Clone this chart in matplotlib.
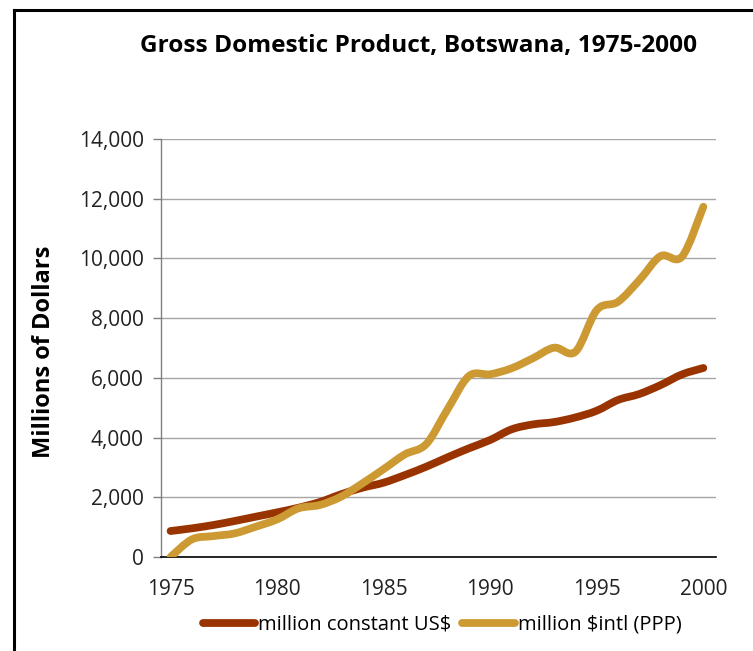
import matplotlib
matplotlib.use("Agg")
import matplotlib.pyplot as plt
from matplotlib.path import Path
from matplotlib.patches import PathPatch
from matplotlib.lines import Line2D
import numpy as np

plt.rcParams['font.family'] = ['Open Sans', 'DejaVu Sans']

years = list(range(1975, 2001))
constant_usd = [870, 960, 1070, 1205, 1350, 1495, 1650, 1840, 2100, 2320,
                2490, 2745, 3025, 3340, 3640, 3920, 4275, 4440, 4520, 4675,
                4900, 5260, 5460, 5760, 6115, 6330]
ppp_intl = [0, 590, 700, 790, 1015, 1260, 1630, 1740, 2020, 2465,
            2945, 3440, 3785, 4950, 6060, 6120, 6320, 6655, 7010, 6875,
            8270, 8550, 9275, 10080, 10060, 11730]
series_names = ["million constant US$", "million $intl (PPP)"]
colors = ["#993300", "#CC9933"]
y_ticks = [0, 2000, 4000, 6000, 8000, 10000, 12000, 14000]
x_ticks = [1975, 1980, 1985, 1990, 1995, 2000]

title = "Gross Domestic Product, Botswana, 1975-2000"
ylabel = "Millions of Dollars"


def smooth_path(xs, ys):
    pts = np.column_stack([xs, ys]).astype(float)
    n = len(pts)
    verts = [pts[0]]
    codes = [Path.MOVETO]
    for i in range(n - 1):
        p0 = pts[i - 1] if i > 0 else pts[i]
        p1 = pts[i]
        p2 = pts[i + 1]
        p3 = pts[i + 2] if i + 2 < n else pts[i + 1]
        c1 = p1 + (p2 - p0) / 6.0
        c2 = p2 - (p3 - p1) / 6.0
        verts += [c1, c2, p2]
        codes += [Path.CURVE4] * 3
    return Path(verts, codes)


fig = plt.figure(figsize=(7.53, 6.51), dpi=100)
ax = fig.add_axes([0.2138, 0.1444, 0.951 - 0.2138, 0.7865 - 0.1444])

lw = 5.6
for vals, c in zip([constant_usd, ppp_intl], colors):
    patch = PathPatch(smooth_path(years, vals), facecolor='none', edgecolor=c,
                      lw=lw, capstyle='round', joinstyle='round', zorder=3)
    ax.add_patch(patch)

ax.set_xlim(1974.55, 2000.6)
ax.set_ylim(0, 14000)
ax.set_yticks(y_ticks)
ax.set_yticklabels([f"{v:,}" for v in y_ticks])
ax.set_xticks(x_ticks)
ax.set_xticklabels([str(v) for v in x_ticks])
ax.yaxis.grid(True, color='#a6a6a6', lw=1.0)
ax.set_axisbelow(True)
for s in ['top', 'right']:
    ax.spines[s].set_visible(False)
ax.spines['left'].set_color('#808080')
ax.spines['left'].set_linewidth(1.0)
ax.spines['bottom'].set_color('black')
ax.spines['bottom'].set_linewidth(1.2)
ax.tick_params(axis='y', length=5.5, width=1, color='#808080', labelsize=15, pad=7,
               labelcolor='#222222')
ax.tick_params(axis='x', length=0, labelsize=15, pad=16, labelcolor='#222222')

fig.text(0.556, 0.929, title, ha='center', va='center', fontsize=17.6, fontweight='bold')
fig.text(0.059, 0.46, ylabel, ha='center', va='center', rotation=90, fontsize=17,
         fontweight='bold')

handles = [Line2D([], [], color=c, lw=lw, solid_capstyle='round') for c in colors]
fig.legend(handles, series_names, loc='center', bbox_to_anchor=(0.587, 0.04),
           ncol=2, frameon=False, fontsize=14.5, handlelength=2.6, handletextpad=0.15,
           columnspacing=0.55)

# figure border (top and left)
fig.add_artist(Line2D([0.0186, 1.0], [0.985, 0.985], transform=fig.transFigure,
                      color='black', lw=2.2))
fig.add_artist(Line2D([0.0186, 0.0186], [0.0, 0.985], transform=fig.transFigure,
                      color='black', lw=2.2))

fig.savefig("out.png", dpi=100)
